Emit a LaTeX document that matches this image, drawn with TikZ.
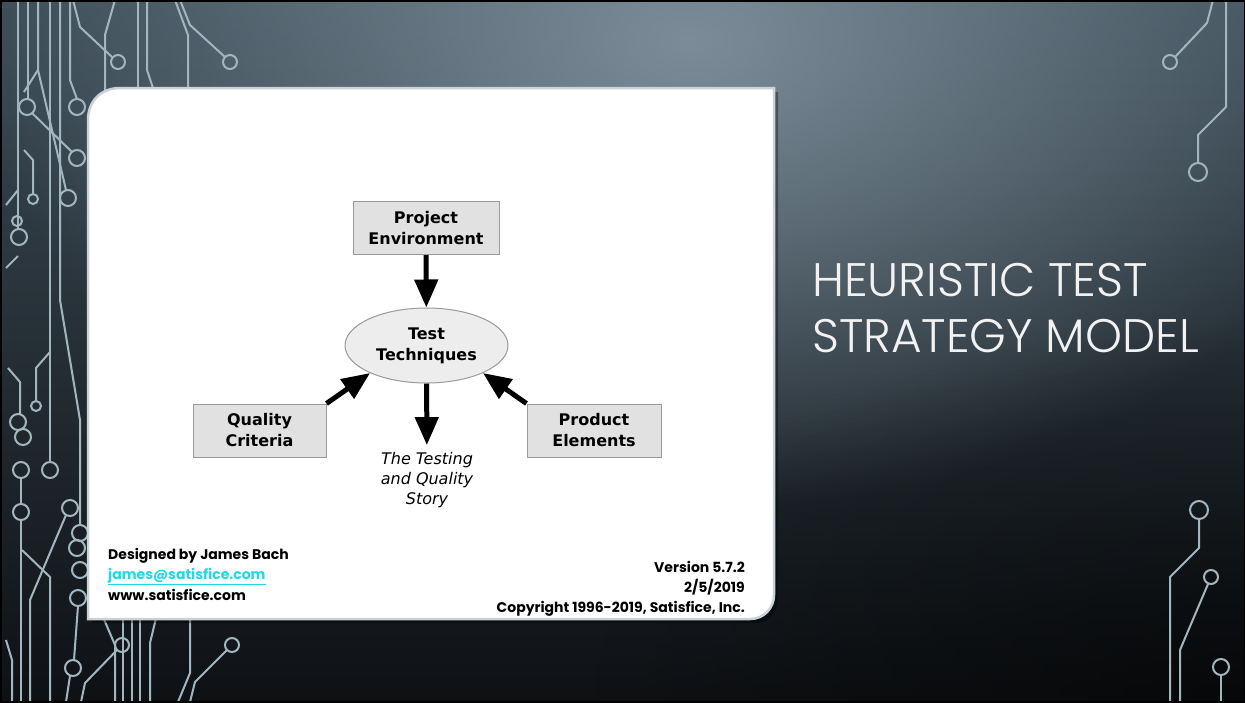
\documentclass[tikz,border=0pt]{standalone}
\usepackage{fontspec}
\setmainfont{DejaVu Sans}
\newfontfamily\geo{Poppins}
\newfontfamily\geolight{Poppins}[UprightFont={* Light}]
\usetikzlibrary{arrows.meta,shapes.geometric,fadings}

\definecolor{bgtop}{HTML}{3C4C57}
\definecolor{bgbot}{HTML}{0E1114}
\definecolor{hilite}{HTML}{7C8D99}
\definecolor{tracecol}{HTML}{A2B6C0}
\definecolor{boxfill}{HTML}{E1E1E1}
\definecolor{boxline}{HTML}{9A9A9A}
\definecolor{ellfill}{HTML}{EDEDED}
\definecolor{cardedge}{HTML}{C9D2D7}
\definecolor{mail}{HTML}{1FD8EA}
\definecolor{titlecol}{HTML}{F2F2F2}

\tikzfading[name=glow, inner color=transparent!0, outer color=transparent!100]
\tikzfading[name=tracefade, top color=transparent!0, bottom color=transparent!48]

\tikzset{
  trace/.style={draw=tracecol, line width=2pt, line join=round},
  via/.style={draw=tracecol, line width=2pt},
  box/.style={rectangle, draw=boxline, line width=1pt, fill=boxfill,
    minimum width=#1, minimum height=53pt, inner sep=0pt, align=center,
    font=\fontsize{16}{21}\selectfont\bfseries},
  ell/.style={ellipse, draw=boxline, line width=1pt, fill=ellfill,
    minimum width=163pt, minimum height=75pt, inner sep=0pt, align=center,
    font=\fontsize{16}{21}\selectfont\bfseries},
  story/.style={align=center, inner sep=2pt,
    font=\fontsize{16}{20}\selectfont\itshape},
  bigarrow/.style={line width=5pt, -{Triangle[length=28pt,width=23pt]}},
  credit/.style={inner sep=0pt, font=\geo\bfseries\fontsize{14}{17}\selectfont},
  title/.style={inner sep=0pt, text=titlecol, font=\geolight\fontsize{47}{56}\selectfont},
}

\begin{document}
\begin{tikzpicture}[x=1pt,y=-1pt]
\useasboundingbox (0,0) rectangle (1245,702);

% backdrop
\shade[top color=bgtop, bottom color=bgbot] (0,0) rectangle (1245,702);
\begin{scope}
  \clip (0,0) rectangle (1245,702);
  \fill[hilite, path fading=glow] (690,40) ellipse (720pt and 470pt);
  \fill[black, opacity=0.55, path fading=glow] (1245,702) ellipse (650pt and 380pt);
\end{scope}

% circuit traces
\begin{scope}[scope fading=tracefade, fit fading=false,
              fading transform={shift={(622,351)}, xscale=12.45, yscale=7.05}]
  % upper left
  \draw[trace] (18,0) -- (18,229);
  \draw[via] (19,237) circle[radius=8pt];
  \draw[via] (17,221) circle[radius=5pt];
  \draw[trace] (28,0) -- (28,99);
  \draw[via] (27,107) circle[radius=8pt];
  \draw[trace] (32,113) -- (72,152);
  \draw[via] (77,158) circle[radius=8pt];
  \draw[trace] (38,0) -- (38,70) -- (66,190);
  \draw[via] (68,198) circle[radius=8pt];
  \draw[trace] (38,70) -- (24,92);
  \draw[trace] (33,193) -- (33,160) -- (24,150);
  \draw[via] (33,199) circle[radius=5pt];
  \draw[trace] (50,0) -- (50,462);
  \draw[via] (50,470) circle[radius=8pt];
  \draw[trace] (60,0) -- (60,300) -- (80,420) -- (80,525);
  \draw[via] (80,533) circle[radius=8pt];
  \draw[trace] (70,0) -- (70,80) -- (77,99);
  \draw[via] (77,107) circle[radius=8pt];
  \draw[trace] (73,0) -- (80,27) -- (112,57);
  \draw[via] (118,62) circle[radius=7pt];
  \draw[trace] (115,0) -- (105,35) -- (105,100);
  \draw[trace] (138,0) -- (138,100);
  \draw[trace] (147,0) -- (147,70) -- (157,100);
  \draw[trace] (175,0) -- (188,35) -- (188,100);
  \draw[trace] (180,0) -- (190,25) -- (225,57);
  \draw[via] (230,62) circle[radius=7pt];
  \draw[trace] (6,205) -- (18,190);
  \draw[trace] (6,268) -- (18,256);
  % lower left
  \draw[trace] (8,368) -- (20,382) -- (20,414);
  \draw[via] (18,422) circle[radius=8pt];
  \draw[via] (23,437) circle[radius=8pt];
  \draw[trace] (36,401) -- (36,368) -- (50,352);
  \draw[via] (36,406) circle[radius=5pt];
  \draw[via] (21,470) circle[radius=8pt];
  \draw[trace] (21,478) -- (21,504);
  \draw[via] (21,512) circle[radius=8pt];
  \draw[trace] (21,520) -- (21,702);
  \draw[via] (70,508) circle[radius=8pt];
  \draw[trace] (66,515) -- (30,600) -- (30,702);
  \draw[trace] (22,550) -- (50,577) -- (50,702);
  \draw[via] (77,548) circle[radius=8pt];
  \draw[via] (80,570) circle[radius=8pt];
  \draw[via] (78,598) circle[radius=8pt];
  \draw[trace] (78,606) -- (74,660);
  \draw[via] (73,668) circle[radius=8pt];
  \draw[trace] (70,676) -- (66,702);
  \draw[trace] (6,640) -- (12,660) -- (12,702);
  % lower middle
  \draw[via] (122,645) circle[radius=7pt];
  \draw[trace] (117,650) -- (85,683) -- (81,702);
  \draw[trace] (100,610) -- (115,645) -- (115,702);
  \draw[trace] (123,610) -- (123,702);
  \draw[trace] (132,610) -- (132,702);
  \draw[trace] (140,610) -- (140,702);
  \draw[trace] (158,610) -- (150,643) -- (150,702);
  \draw[trace] (190,610) -- (190,673) -- (178,702);
  \draw[via] (232,645) circle[radius=7pt];
  \draw[trace] (227,650) -- (195,682) -- (190,702);
  % right
  \draw[trace] (1213,0) -- (1207,23) -- (1175,57);
  \draw[via] (1170,62) circle[radius=7pt];
  \draw[trace] (1226,0) -- (1226,107) -- (1198,135) -- (1198,163);
  \draw[via] (1198,172) circle[radius=9pt];
  \draw[via] (1199,510) circle[radius=9pt];
  \draw[trace] (1199,519) -- (1199,548) -- (1170,577) -- (1170,702);
  \draw[via] (1211,577) circle[radius=7pt];
  \draw[trace] (1208,584) -- (1180,650) -- (1180,702);
  \draw[via] (1221,667) circle[radius=8pt];
  \draw[trace] (1221,675) -- (1221,702);
\end{scope}

% frame line
\draw[black, line width=3pt] (0,0) rectangle (1245,702);

% card with drop shadow
\fill[black, opacity=0.35] (92,623) -- (92,122) .. controls (92,105) and (105,92) .. (122,92)
  -- (778,92) -- (778,601) .. controls (778,613) and (768,623) .. (756,623) -- cycle;
\filldraw[fill=white, draw=cardedge, line width=2.5pt]
  (88,619) -- (88,120) .. controls (88,101) and (101,88) .. (120,88)
  -- (774,88) -- (774,595) .. controls (774,608) and (764,619) .. (750,619) -- cycle;

% model
\node[box=146pt] (pe) at (426,228) {Project\\Environment};
\node[ell] (tt) at (426.5,345.5) {Test\\Techniques};
\node[box=133pt] (qc) at (259.5,430.5) {Quality\\Criteria};
\node[box=134pt] (pr) at (594,430.5) {Product\\Elements};
\node[story] (st) at (427,480) {The Testing\\and Quality\\Story};

\draw[bigarrow] (pe) -- (tt);
\draw[bigarrow, shorten >=5pt] (tt) -- (st);
\draw[bigarrow] (qc.north east) -- (tt.206);
\draw[bigarrow] (pr.north west) -- (tt.334);

% credits
\node[credit, anchor=base west] (by) at (108,559) {Designed by James Bach};
\node[credit, anchor=base west, text=mail] (mailto) at (108,579) {\underline{james@satisfice.com}};
\node[credit, anchor=base west] (web) at (108,600) {www.satisfice.com};
\node[credit, anchor=base east] (ver) at (745,572) {Version 5.7.2};
\node[credit, anchor=base east] (date) at (745,592) {2/5/2019};
\node[credit, anchor=base east] (copy) at (745,612) {Copyright 1996-2019, Satisfice, Inc.};

% heading
\node[title, anchor=base west] (h1) at (812,296) {HEURISTIC TEST};
\node[title, anchor=base west] (h2) at (812,352) {STRATEGY MODEL};
\end{tikzpicture}
\end{document}
